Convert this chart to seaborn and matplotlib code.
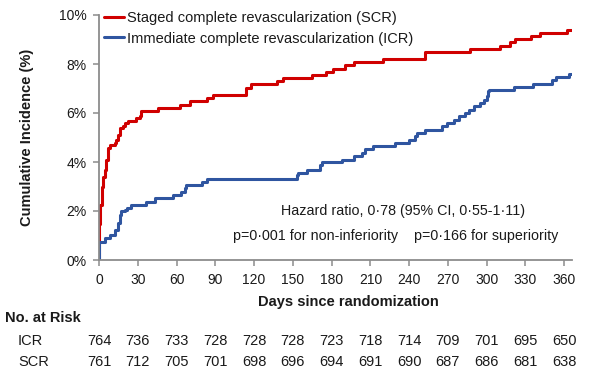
import seaborn as sns
import matplotlib.pyplot as plt
import pandas as pd

# cumulative incidence (day, %)
scr_days = [0, 0, 0.8, 2, 2.5, 3.1, 4.4, 5.7, 7, 8.3, 12.2, 13.5, 14.7, 16, 18.6, 19.9,
            22.5, 29, 31.5, 32.8, 45.7, 62.6, 70.3, 83.2, 88.4, 114, 118, 137.5, 142.6,
            164.6, 176, 181, 190.5, 197, 220, 252.5, 287, 310.6, 318, 322, 334, 341.6,
            362, 366]
scr_pct = [0, 1.45, 2.25, 2.45, 3.0, 3.4, 3.68, 4.09, 4.57, 4.7, 4.77, 4.9, 5.1, 5.38, 5.45,
           5.59, 5.66, 5.8, 5.86, 6.07, 6.2, 6.34, 6.47, 6.61, 6.75, 7.02, 7.2, 7.29, 7.42,
           7.55, 7.67, 7.81, 7.95, 8.07, 8.22, 8.48, 8.62, 8.75, 8.89, 9.03, 9.16, 9.27,
           9.4, 9.4]

icr_days = [0, 0, 4.4, 8.3, 12.2, 14.7, 16, 17.3, 19.9, 22, 25, 36.7, 43, 57.4, 63.8, 66.4,
            67.7, 80, 83.2, 153, 154.3, 160.7, 171, 172.5, 188, 197, 203.4, 206, 212.4,
            229, 239.6, 244.7, 246, 252.5, 265.4, 269.3, 274.4, 278.3, 283.5, 286, 290,
            295, 297.7, 300, 300.8, 301.5, 321, 336, 350.7, 353.3, 363.6, 366]
icr_pct = [0, 0.75, 0.89, 1.02, 1.23, 1.5, 1.84, 1.98, 2.04, 2.12, 2.25, 2.38, 2.52, 2.66,
           2.79, 2.95, 3.07, 3.2, 3.31, 3.48, 3.57, 3.68, 3.86, 3.98, 4.09, 4.23, 4.36,
           4.53, 4.64, 4.77, 4.91, 5.05, 5.18, 5.32, 5.45, 5.59, 5.73, 5.86, 6.0, 6.13,
           6.27, 6.41, 6.54, 6.7, 6.88, 6.95, 7.06, 7.2, 7.36, 7.47, 7.6, 7.6]

risk_days = [0, 30, 60, 90, 120, 150, 180, 210, 240, 270, 300, 330, 360]
icr_risk = [764, 736, 733, 728, 728, 728, 723, 718, 714, 709, 701, 695, 650]
scr_risk = [761, 712, 705, 701, 698, 696, 694, 691, 690, 687, 686, 681, 638]

scr_name = "Staged complete revascularization (SCR)"
icr_name = "Immediate complete revascularization (ICR)"

df = pd.concat([
    pd.DataFrame({"day": scr_days, "pct": scr_pct, "group": scr_name}),
    pd.DataFrame({"day": icr_days, "pct": icr_pct, "group": icr_name}),
])

sns.set_style("ticks")
plt.rcParams["font.family"] = ["Liberation Sans", "DejaVu Sans"]
txt = "#1a1a1a"
axis_col = "#8c8c8c"

W, H = 600, 377
fig = plt.figure(figsize=(6, 3.77), dpi=100)
ax = fig.add_axes([99 / W, 1 - 260 / H, (572 - 99) / W, (260 - 15) / H])

sns.lineplot(data=df, x="day", y="pct", hue="group", hue_order=[scr_name, icr_name],
             palette={scr_name: "#d00000", icr_name: "#2f55a0"}, estimator=None,
             drawstyle="steps-post", linewidth=2.2, ax=ax)

ax.set_xlim(0, 366)
ax.set_ylim(0, 10)
ax.set_xticks(risk_days)
ax.set_yticks([0, 2, 4, 6, 8, 10])
ax.set_yticklabels([f"{v}%" for v in [0, 2, 4, 6, 8, 10]])
ax.set_xlabel("")
ax.set_ylabel("")
sns.despine(ax=ax)
for s in ["left", "bottom"]:
    ax.spines[s].set_color(axis_col)
    ax.spines[s].set_linewidth(1.3)
ax.tick_params(colors=axis_col, labelcolor=txt, labelsize=10, length=4, width=1.1, pad=5)

leg = ax.legend(frameon=False, loc="upper left", bbox_to_anchor=(104 / W, 1 - 11 / H),
                bbox_transform=fig.transFigure, fontsize=10.5, handlelength=1.4,
                handletextpad=0.2, labelspacing=0.45, borderpad=0, borderaxespad=0)
for t in leg.get_texts():
    t.set_color(txt)

fig.text(27 / W, 1 - 137 / H, "Cumulative Incidence (%)", rotation=90, ha="center",
         va="center", fontsize=10.5, fontweight="bold", color=txt)
fig.text(348 / W, 1 - 302 / H, "Days since randomization", ha="center", va="center",
         fontsize=10.5, fontweight="bold", color=txt)

fig.text(281 / W, 1 - 211 / H, "Hazard ratio, 0·78 (95% CI, 0·55-1·11)", ha="left",
         va="center", fontsize=10.3, color=txt)
fig.text(233 / W, 1 - 236 / H, "p=0·001 for non-inferiority    p=0·166 for superiority",
         ha="left", va="center", fontsize=10.3, color=txt)

# number at risk table
fig.text(5 / W, 1 - 318 / H, "No. at Risk", ha="left", va="center", fontsize=10.5,
         fontweight="bold", color=txt)
fig.text(18 / W, 1 - 341 / H, "ICR", ha="left", va="center", fontsize=10.5, color=txt)
fig.text(18 / W, 1 - 362 / H, "SCR", ha="left", va="center", fontsize=10.5, color=txt)
trans = ax.get_xaxis_transform()
for d, a, b in zip(risk_days, icr_risk, scr_risk):
    ax.text(d, (260 - 341) / 245, str(a), transform=trans, ha="center", va="center",
            fontsize=10.5, color=txt, clip_on=False)
    ax.text(d, (260 - 362) / 245, str(b), transform=trans, ha="center", va="center",
            fontsize=10.5, color=txt, clip_on=False)

fig.savefig("out.png", dpi=100)
